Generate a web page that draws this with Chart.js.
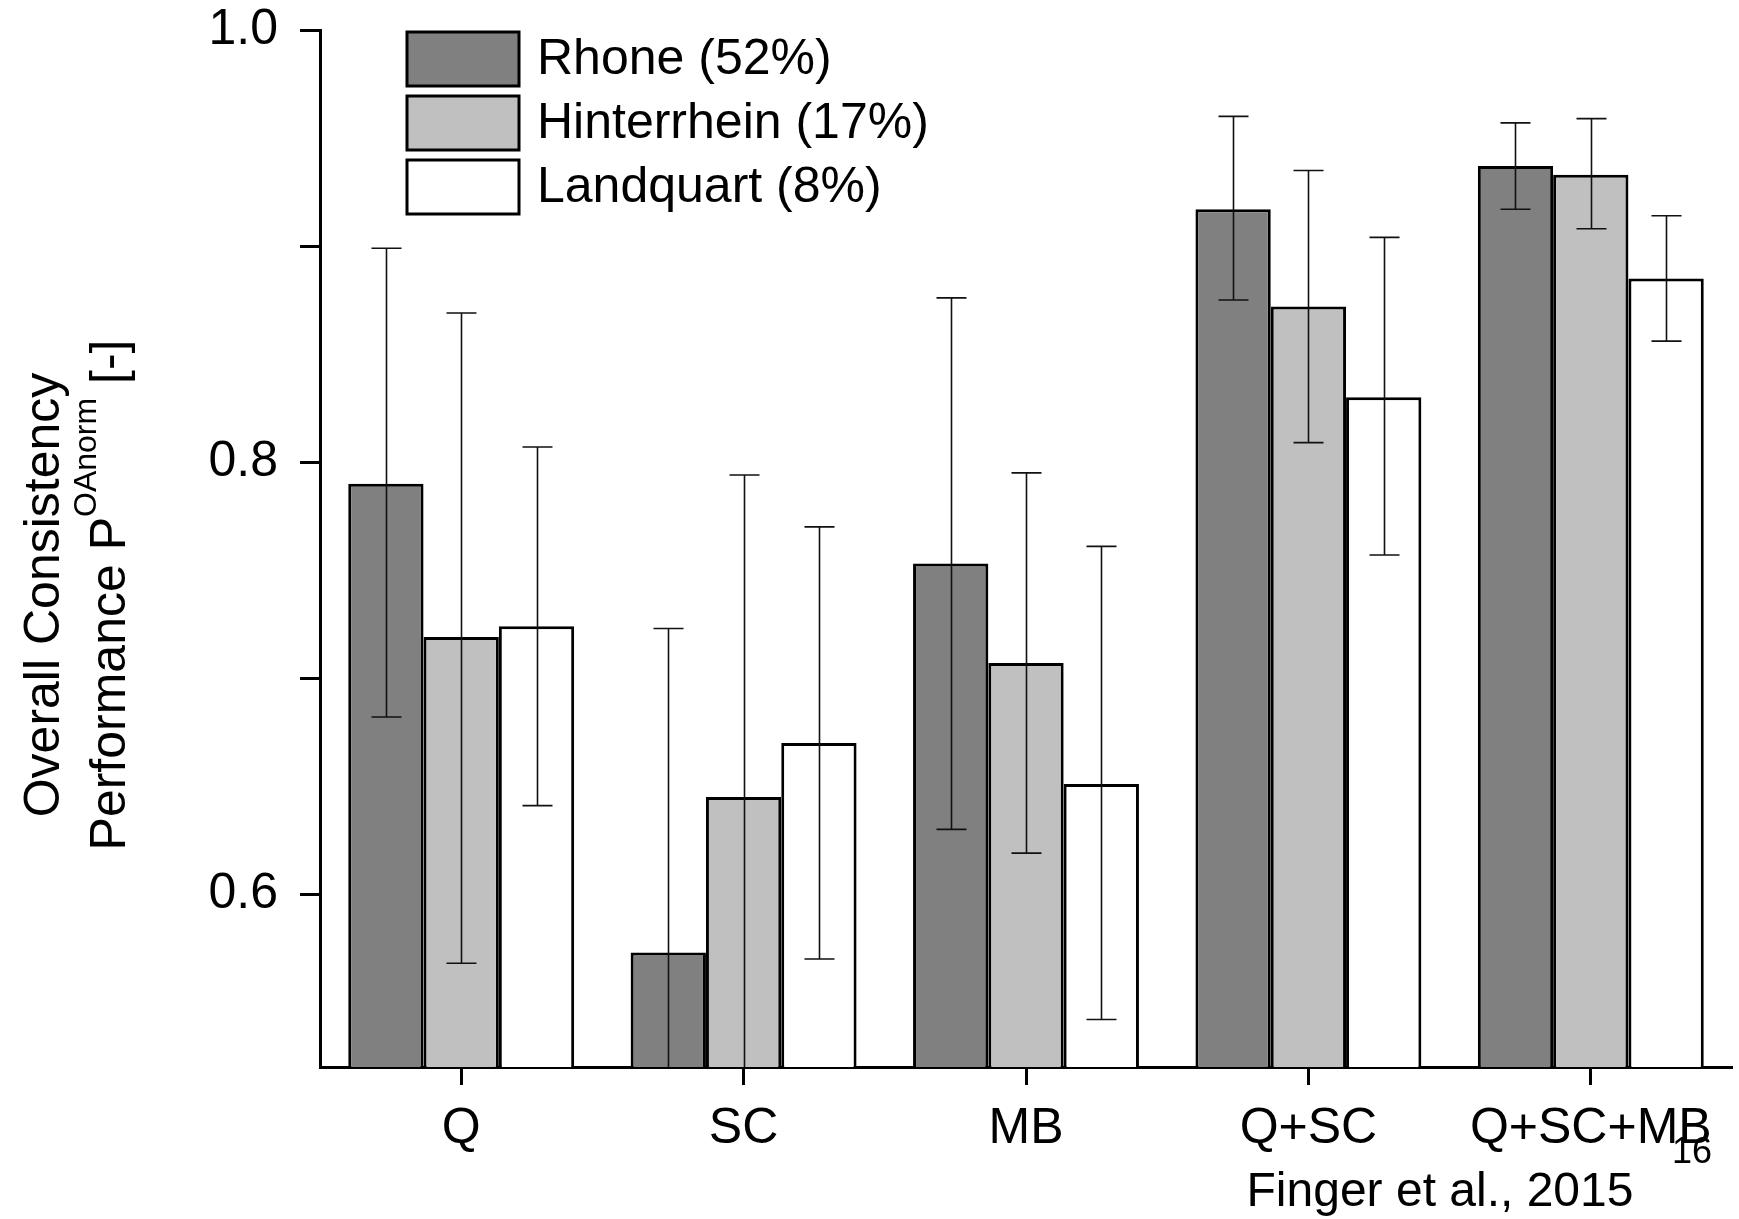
<!DOCTYPE html>
<html>
<head>
<meta charset="utf-8">
<script src="https://cdn.jsdelivr.net/npm/chart.js@4/dist/chart.umd.min.js"></script>
<style>
html,body{margin:0;padding:0;background:#fff;}
#wrap{position:relative;width:1739px;height:1219px;}
</style>
</head>
<body>
<div id="wrap"><canvas id="c" width="1739" height="1219"></canvas></div>
<script>
const categories = ['Q', 'SC', 'MB', 'Q+SC', 'Q+SC+MB'];
const seriesNames = ['Rhone (52%)', 'Hinterrhein (17%)', 'Landquart (8%)'];
const rhone       = [0.790, 0.573, 0.753, 0.917, 0.937];
const hinterrhein = [0.719, 0.645, 0.707, 0.872, 0.933];
const landquart   = [0.724, 0.670, 0.651, 0.830, 0.885];
const rhoneHi       = [0.899, 0.723, 0.876, 0.960, 0.957];
const rhoneLo       = [0.682, 0.423, 0.630, 0.875, 0.917];
const hinterrheinHi = [0.869, 0.794, 0.795, 0.935, 0.959];
const hinterrheinLo = [0.568, 0.496, 0.619, 0.809, 0.908];
const landquartHi   = [0.807, 0.770, 0.761, 0.904, 0.914];
const landquartLo   = [0.641, 0.570, 0.542, 0.757, 0.856];
const yTicks = [0.6, 0.7, 0.8, 0.9, 1.0];
const yLabeled = [0.6, 0.8, 1.0];

const FONT = '"Liberation Sans", Arial, sans-serif';
const colors = ['#808080', '#c0c0c0', '#ffffff'];
const his = [rhoneHi, hinterrheinHi, landquartHi];
const los = [rhoneLo, hinterrheinLo, landquartLo];

const errorBars = {
  id: 'errorBars',
  afterDatasetsDraw(chart) {
    const ctx = chart.ctx, y = chart.scales.y, a = chart.chartArea;
    ctx.save();
    ctx.beginPath();
    ctx.rect(a.left, a.top - 5, a.right - a.left, a.bottom - a.top + 5);
    ctx.clip();
    ctx.strokeStyle = '#111';
    ctx.lineWidth = 1.6;
    chart.data.datasets.forEach((ds, di) => {
      const meta = chart.getDatasetMeta(di);
      meta.data.forEach((bar, i) => {
        const x = Math.round(bar.x) + 0.5;
        const yh = y.getPixelForValue(his[di][i]);
        const yl = y.getPixelForValue(los[di][i]);
        const cw = 15;
        ctx.beginPath();
        ctx.moveTo(x, yh); ctx.lineTo(x, yl);
        ctx.moveTo(x - cw, yh); ctx.lineTo(x + cw, yh);
        if (yl < a.bottom) { ctx.moveTo(x - cw, yl); ctx.lineTo(x + cw, yl); }
        ctx.stroke();
      });
    });
    ctx.restore();
  }
};

const decorations = {
  id: 'decorations',
  afterDraw(chart) {
    const ctx = chart.ctx;
    ctx.save();
    // legend
    const bx = 407, bw = 112, bh = 54, tops = [32, 96, 160];
    chart.data.datasets.forEach((ds, i) => {
      ctx.fillStyle = ds.backgroundColor;
      ctx.fillRect(bx, tops[i], bw, bh);
      ctx.strokeStyle = '#000';
      ctx.lineWidth = 3;
      ctx.strokeRect(bx, tops[i], bw, bh);
      ctx.fillStyle = '#000';
      ctx.font = '50px ' + FONT;
      ctx.textBaseline = 'middle';
      ctx.textAlign = 'left';
      ctx.fillText(ds.label, 537, tops[i] + bh / 2 + 1);
    });
    // y title
    ctx.save();
    ctx.translate(45, 595);
    ctx.rotate(-Math.PI / 2);
    ctx.font = '50px ' + FONT;
    ctx.textAlign = 'center';
    ctx.textBaseline = 'middle';
    ctx.fillText('Overall Consistency', 0, 0);
    ctx.restore();
    ctx.save();
    ctx.translate(111, 595);
    ctx.rotate(-Math.PI / 2);
    ctx.textBaseline = 'middle';
    ctx.textAlign = 'left';
    const p1 = 'Performance P', sup = 'OAnorm', p2 = ' [-]';
    ctx.font = '50px ' + FONT;
    const w1 = ctx.measureText(p1).width, w3 = ctx.measureText(p2).width;
    ctx.font = '32px ' + FONT;
    const w2 = ctx.measureText(sup).width;
    const total = w1 + w2 + w3;
    let x0 = -total / 2;
    ctx.font = '50px ' + FONT;
    ctx.fillText(p1, x0, 0);
    ctx.font = '32px ' + FONT;
    ctx.fillText(sup, x0 + w1, -24);
    ctx.font = '50px ' + FONT;
    ctx.fillText(p2, x0 + w1 + w2, 0);
    ctx.restore();
    // citation
    ctx.fillStyle = '#000';
    ctx.font = '48px ' + FONT;
    ctx.textAlign = 'center';
    ctx.textBaseline = 'middle';
    ctx.fillText('Finger et al., 2015', 1440, 1193);
    ctx.font = '36px ' + FONT;
    ctx.fillText('16', 1692, 1153);
    ctx.restore();
  }
};

const datasets = [rhone, hinterrhein, landquart].map((d, i) => ({
  label: seriesNames[i],
  data: d,
  backgroundColor: colors[i],
  borderColor: '#000',
  borderWidth: 3,
  borderSkipped: false
}));

new Chart(document.getElementById('c'), {
  type: 'bar',
  data: { labels: categories, datasets },
  options: {
    responsive: false,
    animation: false,
    layout: { padding: { left: 0, top: 30, right: 7, bottom: 0 } },
    categoryPercentage: 0.8,
    barPercentage: 1.0,
    plugins: { legend: { display: false }, tooltip: { enabled: false } },
    scales: {
      x: {
        grid: { display: true, drawOnChartArea: false, offset: false, tickLength: 18, tickWidth: 3, tickColor: '#000' },
        border: { display: true, color: '#000', width: 3 },
        ticks: { color: '#000', font: { family: FONT, size: 50 }, padding: 14, maxRotation: 0 },
        afterFit(s) { s.height = 152; }
      },
      y: {
        min: 0.52, max: 1.0,
        afterBuildTicks(s) { s.ticks = yTicks.map(v => ({ value: v })); },
        grid: { display: true, drawOnChartArea: false, tickLength: 20, tickWidth: 3, tickColor: '#000' },
        border: { display: true, color: '#000', width: 3 },
        ticks: {
          color: '#000', font: { family: FONT, size: 50, lineHeight: 0.4 }, padding: 22,
          callback(v) { return yLabeled.some(t => Math.abs(t - v) < 1e-6) ? v.toFixed(1) : ''; }
        },
        afterFit(s) { s.width = 320; s.paddingTop = 0; s.paddingBottom = 0; }
      }
    }
  },
  plugins: [errorBars, decorations]
});
</script>
</body>
</html>
